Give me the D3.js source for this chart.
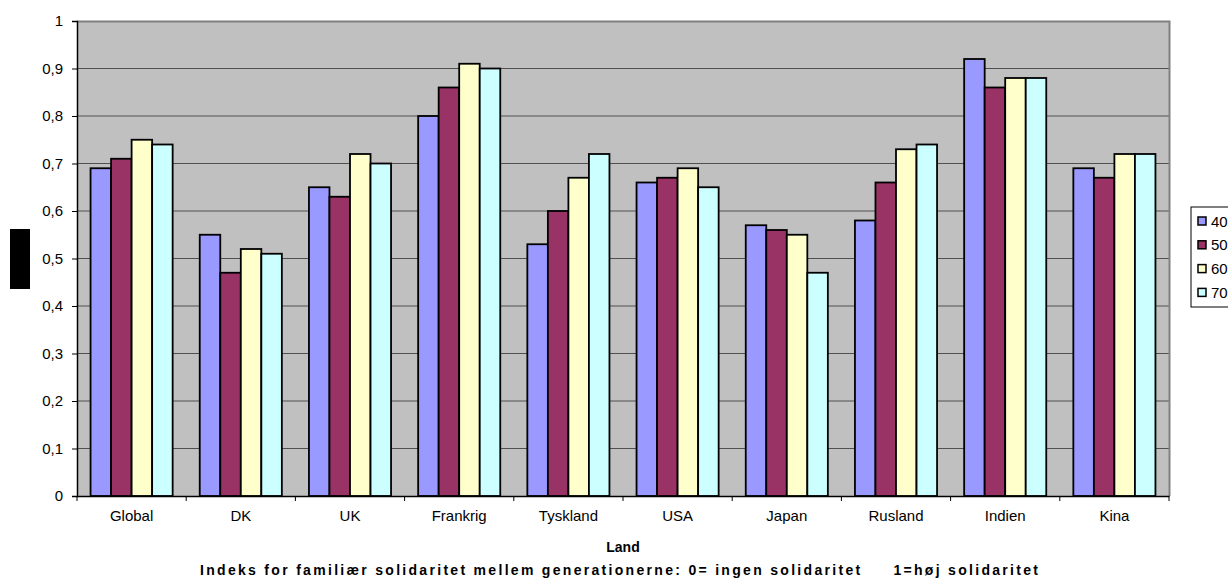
<!DOCTYPE html>
<html><head><meta charset="utf-8">
<script src="https://cdn.jsdelivr.net/npm/d3@7"></script>
<style>body{margin:0;background:#fff;}svg{display:block;font-family:"Liberation Sans",Arial,sans-serif;}</style>
</head><body>
<svg id="c" width="1228" height="578"></svg>
<script>
const categories = ["Global","DK","UK","Frankrig","Tyskland","USA","Japan","Rusland","Indien","Kina"];
const seriesNames = ["40","50","60","70"];
const s40 = [0.69,0.55,0.65,0.80,0.53,0.66,0.57,0.58,0.92,0.69];
const s50 = [0.71,0.47,0.63,0.86,0.60,0.67,0.56,0.66,0.86,0.67];
const s60 = [0.75,0.52,0.72,0.91,0.67,0.69,0.55,0.73,0.88,0.72];
const s70 = [0.74,0.51,0.70,0.90,0.72,0.65,0.47,0.74,0.88,0.72];
const yTicks = [0,0.1,0.2,0.3,0.4,0.5,0.6,0.7,0.8,0.9,1];
const yTickLabels = ["0","0,1","0,2","0,3","0,4","0,5","0,6","0,7","0,8","0,9","1"];
const colors = ["#9999FF","#993366","#FFFFCC","#CCFFFF"];
const seriesVals = [s40,s50,s60,s70];

const svg = d3.select("#c");
const L=77, R=1169, T=21, B=496;
const x = d3.scaleBand().domain(categories).range([L,R]).paddingInner(0).paddingOuter(0);
const x1 = d3.scaleBand().domain(seriesNames).range([0,x.bandwidth()]).paddingOuter(0.66).paddingInner(0);
const y = d3.scaleLinear().domain([0,1]).range([B,T]);

svg.append("rect").attr("x",L).attr("y",T).attr("width",R-L).attr("height",B-T).attr("fill","#C0C0C0");
svg.append("g").selectAll("line").data(yTicks.filter(d=>d>0&&d<1)).join("line")
  .attr("x1",L).attr("x2",R).attr("y1",d=>y(d)).attr("y2",d=>y(d)).attr("stroke","#505050").attr("stroke-width",1);
svg.append("path").attr("d",`M${L},${T+0.5}H${R+0.5}V${B}`).attr("fill","none").attr("stroke","#808080").attr("stroke-width",2);

const g = svg.append("g");
seriesVals.forEach((vals,si)=>{
  g.append("g").selectAll("rect").data(vals).join("rect")
    .attr("x",(d,i)=>x(categories[i])+x1(seriesNames[si]))
    .attr("y",d=>y(d))
    .attr("width",x1.bandwidth())
    .attr("height",d=>B-y(d))
    .attr("fill",colors[si]).attr("stroke","#000").attr("stroke-width",1.8);
});

const yAxis = d3.axisLeft(y).tickValues(yTicks).tickFormat((d,i)=>yTickLabels[i]).tickSize(5).tickPadding(9);
const ya = svg.append("g").attr("transform",`translate(${L},0)`).call(yAxis);
ya.select(".domain").attr("stroke","#000").attr("stroke-width",1.5);
ya.selectAll("text").attr("font-size",15).attr("fill","#000").attr("font-family","Liberation Sans, Arial, sans-serif");
ya.selectAll(".tick line").attr("stroke","#000");

const xa = svg.append("g").attr("transform",`translate(0,${B})`).call(d3.axisBottom(x).tickSize(0).tickPadding(14));
xa.select(".domain").attr("stroke","#000").attr("stroke-width",1.5);
xa.selectAll("text").attr("font-size",15).attr("fill","#000").attr("font-family","Liberation Sans, Arial, sans-serif");
const bounds = categories.map((c)=>x(c)).concat([R]);
svg.append("g").selectAll("line").data(bounds).join("line")
  .attr("x1",d=>d).attr("x2",d=>d).attr("y1",B).attr("y2",B+5).attr("stroke","#000");

svg.append("text").attr("x",(L+R)/2).attr("y",552).attr("text-anchor","middle").attr("font-size",14).attr("font-weight","bold").text("Land");
svg.append("text").attr("x",200).attr("y",575).attr("text-anchor","start").attr("font-size",14).attr("font-weight","bold")
  .attr("textLength",838).attr("lengthAdjust","spacing")
  .style("white-space","pre")
  .text("Indeks for familiær solidaritet mellem generationerne: 0= ingen solidaritet     1=høj solidaritet");

svg.append("rect").attr("x",10).attr("y",229).attr("width",20).attr("height",60).attr("fill","#000");

const lg = svg.append("g");
lg.append("rect").attr("x",1191).attr("y",207).attr("width",60).attr("height",100).attr("fill","#fff").attr("stroke","#000").attr("stroke-width",1);
seriesNames.forEach((n,i)=>{
  const yy = 221 + i*23.8;
  lg.append("rect").attr("x",1198).attr("y",yy-4).attr("width",8).attr("height",8).attr("fill",colors[i]).attr("stroke","#000").attr("stroke-width",1.5);
  lg.append("text").attr("x",1211).attr("y",yy+5.5).attr("font-size",15).text(n);
});
</script>
</body></html>
